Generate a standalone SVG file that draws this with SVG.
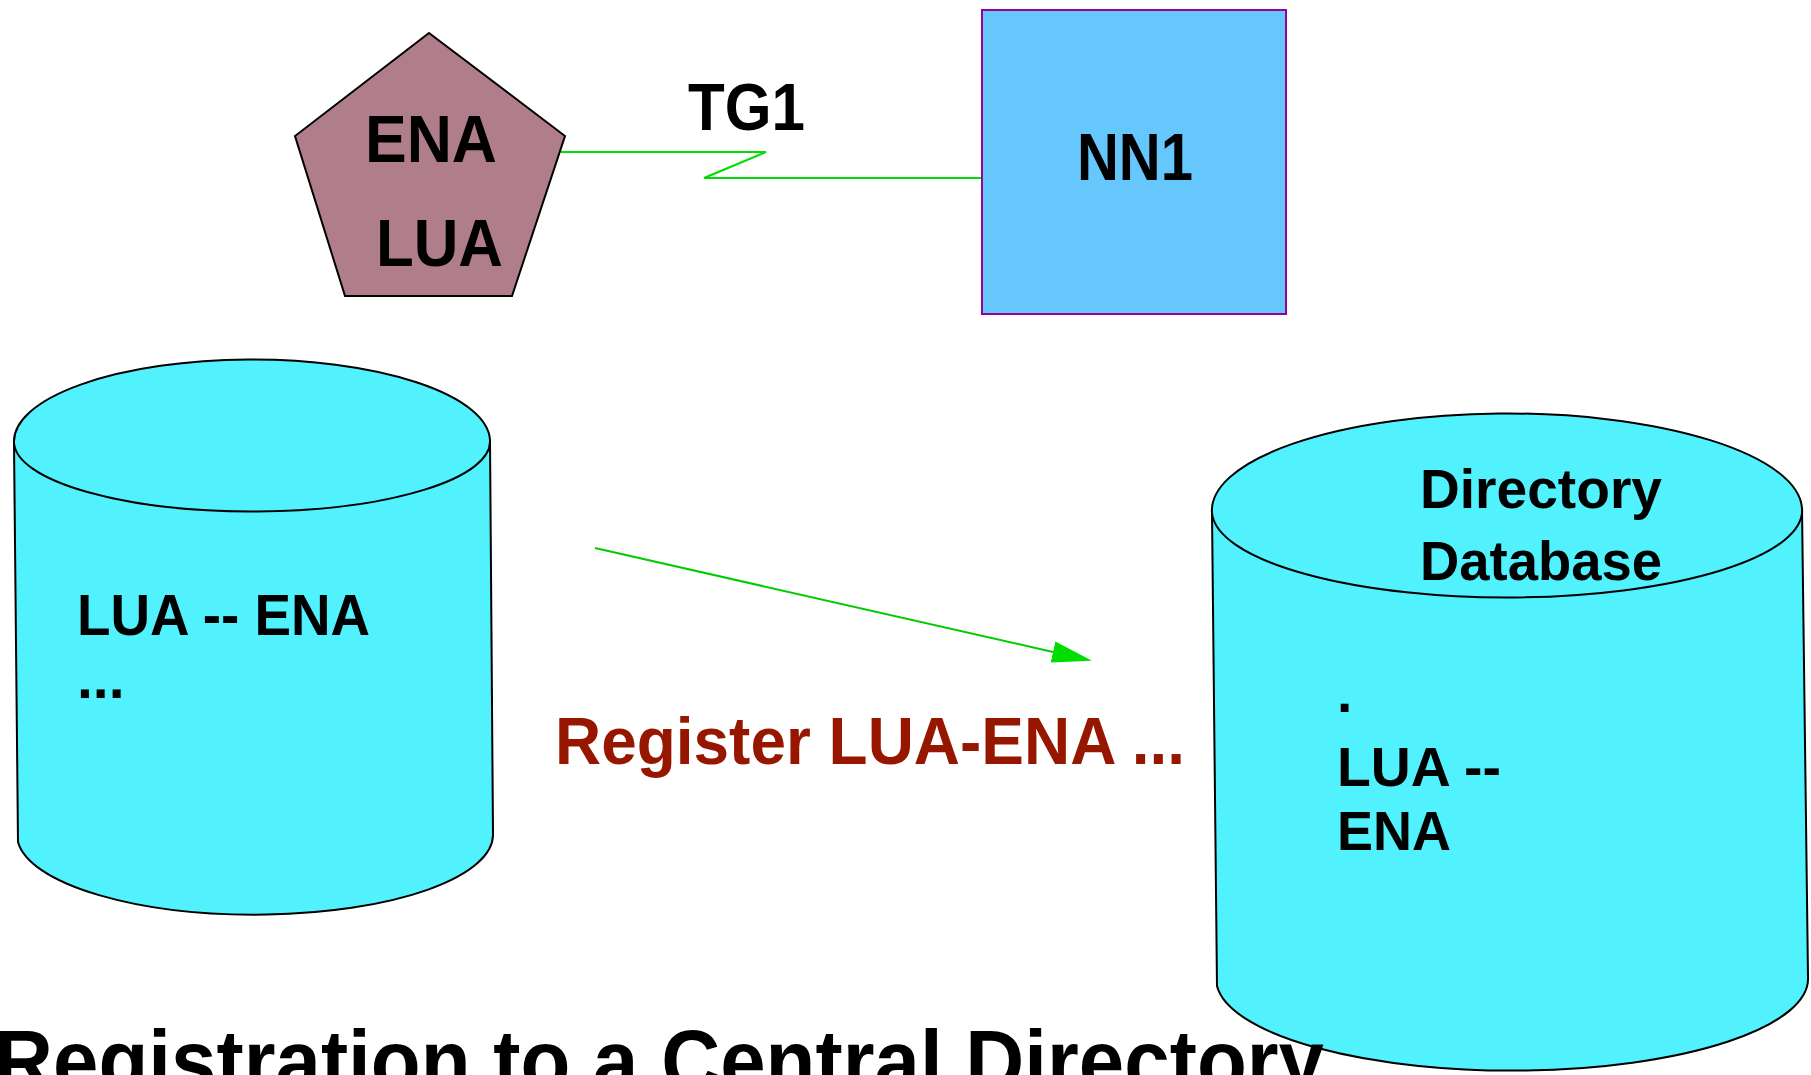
<svg xmlns="http://www.w3.org/2000/svg" width="1811" height="1075" viewBox="0 0 1811 1075">
<defs>
<style>
.t{font-family:"Liberation Sans",Arial,sans-serif;font-weight:bold;fill:#000}
.red{fill:#961600}
.cyl{fill:#52F1FE;stroke:#000;stroke-width:2;stroke-linejoin:round}
.edge{fill:none;stroke:#000;stroke-width:2}
.link{fill:none;stroke:#00DD00;stroke-width:2.2}
</style>
<marker id="ah" markerUnits="userSpaceOnUse" markerWidth="40" markerHeight="22" viewBox="0 0 40 21.6" refX="0" refY="10.8" orient="auto">
<path d="M0,0 L40,10.8 L0,21.6 Z" fill="#00DD00"/>
</marker>
</defs>
<rect width="1811" height="1075" fill="#fff"/>

<g id="connectors">
<polyline class="link" points="561,152 766,152 704,178 986,178"/>
<line x1="595" y1="548" x2="1053" y2="652" stroke="#00CC00" stroke-width="2" marker-end="url(#ah)"/>
</g>

<g id="ena-lua">
<polygon points="429,33 565,136 512,296 345,296 295,136" fill="#B07E8B" stroke="#000" stroke-width="2"/>
<text class="t" x="365" y="162" font-size="66" textLength="132" lengthAdjust="spacingAndGlyphs">ENA</text>
<text class="t" x="376" y="266" font-size="66" textLength="127" lengthAdjust="spacingAndGlyphs">LUA</text>
</g>

<g id="tg1-label">
<text class="t" x="688" y="130" font-size="66" textLength="117" lengthAdjust="spacingAndGlyphs">TG1</text>
</g>

<g id="nn1">
<rect x="982" y="10" width="304" height="304" fill="#66C7FD" stroke="#990099" stroke-width="2"/>
<text class="t" x="1077" y="180" font-size="66" textLength="116" lengthAdjust="spacingAndGlyphs">NN1</text>
</g>

<g id="local-db">
<path class="cyl" d="M14,443 A238,82 0 0 1 490,440 L493,834 A238,80 0 0 1 18,842 Z"/>
<path class="edge" d="M490,440 A238,70 0 0 1 14,443"/>
<text class="t" x="77" y="635" font-size="57" textLength="293" lengthAdjust="spacingAndGlyphs">LUA -- ENA</text>
<text class="t" x="77" y="698" font-size="57">...</text>
</g>

<g id="register-label">
<text class="t red" x="555" y="764" font-size="67" textLength="630" lengthAdjust="spacingAndGlyphs">Register LUA-ENA ...</text>
</g>

<g id="directory-db">
<path class="cyl" d="M1212,513 A295,97 0 0 1 1802,508 L1808,977 A296,92 0 0 1 1217,986 Z"/>
<path class="edge" d="M1802,508 A295,87 0 0 1 1212,513"/>
<text class="t" x="1420" y="508" font-size="55" textLength="242" lengthAdjust="spacingAndGlyphs">Directory</text>
<text class="t" x="1420" y="580" font-size="55" textLength="242" lengthAdjust="spacingAndGlyphs">Database</text>
<text class="t" x="1337" y="712" font-size="55">.</text>
<text class="t" x="1337" y="786" font-size="55" textLength="164" lengthAdjust="spacingAndGlyphs">LUA --</text>
<text class="t" x="1337" y="850" font-size="55" textLength="114" lengthAdjust="spacingAndGlyphs">ENA</text>
</g>

<g id="title">
<text class="t" x="-6" y="1091" font-size="87" textLength="1330" lengthAdjust="spacingAndGlyphs">Registration to a Central Directory</text>
</g>
</svg>
